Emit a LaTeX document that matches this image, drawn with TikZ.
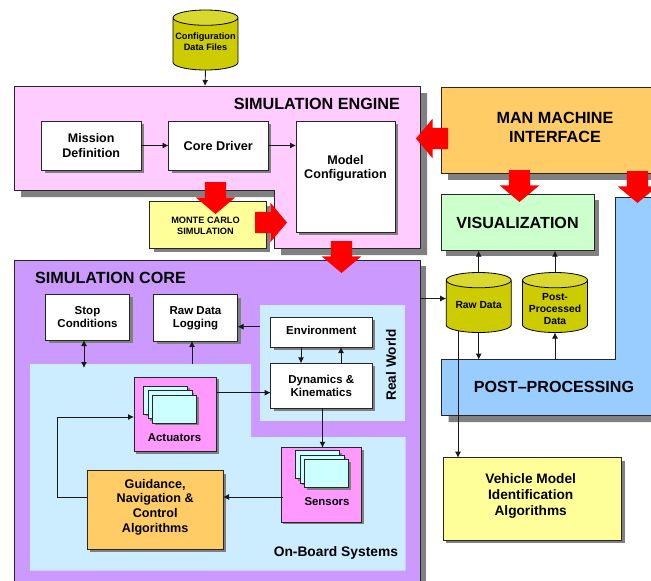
\documentclass[tikz,border=0pt]{standalone}
\usepackage{fontspec}
\setmainfont{Liberation Sans}
\usetikzlibrary{arrows.meta,shadows,shapes.geometric,shapes.arrows}
\definecolor{shadowgray}{HTML}{808080}
\definecolor{enginepink}{HTML}{FFCCFF}
\definecolor{corepurple}{HTML}{CC99FF}
\definecolor{regionblue}{HTML}{CCECFF}
\definecolor{manorange}{HTML}{FFCC66}
\definecolor{visgreen}{HTML}{CCFFCC}
\definecolor{postblue}{HTML}{99CCFF}
\definecolor{paleyellow}{HTML}{FFFF99}
\definecolor{actpink}{HTML}{FF99FF}
\definecolor{stackcyan}{HTML}{CCFFFF}
\definecolor{cylbody}{HTML}{CCCC00}
\definecolor{cylend}{HTML}{D8D82E}
\newcommand{\sz}[2]{\fontsize{#1}{#2}\selectfont\bfseries}
\tikzset{
	dropsh/.style={drop shadow={shadow xshift=#1pt, shadow yshift=-#1pt, fill=shadowgray, opacity=1}},
	box/.style={draw=black!85, line width=0.8pt, inner sep=0pt, outer sep=0pt, align=center, minimum width=#1},
	whitebox/.style={box=#1, fill=white, dropsh=3},
	stackbox/.style={draw=black!85, line width=0.7pt, fill=stackcyan, minimum width=44pt, minimum height=28pt, inner sep=0pt, dropsh=2},
	cyl/.style={cylinder, shape border rotate=90, aspect=0.33, draw=black, line width=0.8pt, inner sep=0pt, outer sep=0pt,
		minimum width=65pt, minimum height=60pt, anchor=shape center,
		cylinder uses custom fill, cylinder body fill=cylbody, cylinder end fill=cylend},
	flow/.style={-{Latex[length=6pt,width=6pt]}, line width=0.9pt, draw=black!90},
	bothflow/.style={{Latex[length=6pt,width=6pt]}-{Latex[length=6pt,width=6pt]}, line width=0.9pt, draw=black!90},
	bigarrow/.style={single arrow, fill=red, draw=none, inner xsep=0pt, inner ysep=10.5pt, outer sep=0pt, anchor=tail,
		minimum height=32pt, single arrow head extend=9pt, single arrow tip angle=100, single arrow head indent=0pt},
	plain/.style={inner sep=0pt, outer sep=0pt, align=center},
}
\newcommand{\cylfill}{\phantom{\sz{10.3}{11.7}Raw Data}}
\begin{document}
\begin{tikzpicture}[x=1pt, y=-1pt]
	\useasboundingbox (0,0) rectangle (651,581);
	\clip (0,0) rectangle (651,581);

	% engine and core
	\draw[draw=black!85, line width=0.8pt, fill=enginepink, dropsh=7]
		(14,86) -- (420,86) -- (420,248) -- (274,248) -- (274,190) -- (14,190) -- cycle;
	\coordinate (enginetop) at (205,86);
	\node[plain, font=\sz{16.2}{19}, anchor=east] (enginetitle) at (400,103.5) {SIMULATION ENGINE};

	\node[box=406pt, fill=corepurple, minimum height=360pt, dropsh=6] (core) at (217,440) {};
	\node[plain, font=\sz{16.2}{19}, anchor=west] (coretitle) at (35,278) {SIMULATION CORE};

	\fill[regionblue] (260,305) rectangle (405,421);
	\fill[regionblue] (30,364) -- (251,364) -- (251,437) -- (405.5,437) -- (405.5,570.7) -- (30,570.7) -- cycle;
	\coordinate (realwest) at (260,326.7);
	\coordinate (boardtop) at (192,364);
	\coordinate (stopend) at (84,368);
	\node[plain, font=\sz{13.6}{16}, rotate=90] (realworld) at (391,365) {Real World};
	\node[plain, font=\sz{13.8}{16}, anchor=east] (onboard) at (398,553) {On-Board Systems};

	% engine boxes
	\node[whitebox=99.5pt, minimum height=49pt, font=\sz{12.5}{14.3}] (mission) at (91.25,145.5) {Mission\\Definition};
	\node[whitebox=99.5pt, minimum height=49pt, font=\sz{12.7}{14.3}] (driver) at (218.25,145.5) {Core Driver};
	\node[whitebox=99pt, minimum height=111pt] (model) at (345.5,176.5) {};
	\node[plain, font=\sz{12.6}{14.3}] (modeltext) at (345.5,168) {Model\\Configuration};
	\node[box=116.5pt, fill=paleyellow, minimum height=46.5pt, dropsh=4] (monte) at (207.75,224.75) {};
	\node[plain, font=\sz{9.2}{11}] (montetext) at (205.5,226) {MONTE CARLO\\SIMULATION};

	% core boxes
	\node[whitebox=84pt, minimum height=45.7pt, font=\sz{11.5}{13}] (stop) at (87.5,317.2) {Stop\\Conditions};
	\node[whitebox=84pt, minimum height=46.3pt, font=\sz{11.5}{13}] (logging) at (195.5,317.8) {Raw Data\\Logging};
	\node[whitebox=101.3pt, minimum height=30pt] (environment) at (321.3,332) {};
	\node[plain, font=\sz{11.5}{13}] (envtext) at (321.3,330) {Environment};
	\node[whitebox=101.3pt, minimum height=44.7pt, font=\sz{11.5}{13}] (dynamics) at (321.3,385.7) {Dynamics \&\\Kinematics};
	\node[box=82.7pt, fill=actpink, minimum height=74.4pt, dropsh=2] (actuators) at (175.3,414.5) {};
	\node[box=80.7pt, fill=actpink, minimum height=74.3pt, dropsh=2] (sensors) at (321.3,484.9) {};
	\foreach \i in {0,1,2} {
		\node[stackbox] (act\i) at (165.5+4.5*\i,400.2+4.5*\i) {};
		\node[stackbox] (sen\i) at (317.8+4.5*\i,464.5+4.5*\i) {};
	}
	\node[plain, font=\sz{11.4}{13}] (actlabel) at (174.5,438) {Actuators};
	\node[plain, font=\sz{11.4}{13}] (senlabel) at (327,501.7) {Sensors};
	\node[box=135.7pt, fill=manorange, minimum height=78.6pt, dropsh=3] (guidance) at (155.2,510) {};
	\node[plain, font=\sz{12.6}{14.7}] (guidtext) at (155.2,507) {Guidance,\\Navigation \&\\Control\\Algorithms};

	% right side
	\node[box=228pt, fill=manorange, minimum height=86pt, dropsh=7] (interface) at (555,130) {};
	\node[plain, font=\sz{16.2}{18.7}] (mantext) at (555,127.5) {MAN MACHINE\\INTERFACE};
	\node[box=153pt, fill=visgreen, minimum height=56pt, dropsh=5, font=\sz{16.1}{19}] (vis) at (517.5,222.7) {VISUALIZATION};
	\draw[draw=black!85, line width=0.8pt, fill=postblue, dropsh=7]
		(441.5,359.7) -- (615,359.7) -- (615,197) -- (700,197) -- (700,415) -- (441.5,415) -- cycle;
	\coordinate (posttopa) at (478.7,359.7);
	\coordinate (posttopb) at (555,359.7);
	\node[plain, font=\sz{16.1}{19}] (posttitle) at (554,387) {POST--PROCESSING};
	\node[box=178.4pt, fill=paleyellow, minimum height=82.3pt, dropsh=3] (vehicle) at (532.5,498.85) {};
	\node[plain, font=\sz{13.7}{16}] (vehicletext) at (530.7,495.7) {Vehicle Model\\Identification\\Algorithms};

	\node[cyl] (config) at (205.5,40) {\cylfill};
	\node[plain, font=\sz{9.2}{11}] (configtext) at (205.5,42) {Configuration\\Data Files};
	\node[cyl] (rawdata) at (478.7,302.5) {\cylfill};
	\node[plain, font=\sz{10.3}{11.7}] (rawtext) at (478.7,305) {Raw Data};
	\node[cyl] (postdata) at (555,302.5) {\cylfill};
	\node[plain, font=\sz{10.3}{11.7}] (posttext) at (555,309) {Post-\\Processed\\Data};

	% thin connectors
	\draw[flow] (config.south) -- (enginetop);
	\draw[flow] (mission) -- (driver);
	\draw[flow] (driver) -- (driver -| model.west);
	\draw[bothflow] (stop.south -| stopend) -- (stopend);
	\draw[flow] (boardtop) -- (boardtop |- logging.south);
	\draw[flow] (realwest) -- (realwest -| logging.east);
	\coordinate (envdown) at (301,347);
	\coordinate (dynup) at (341,363.3);
	\draw[flow] (envdown) -- (envdown |- dynamics.north);
	\draw[flow] (dynup) -- (dynup |- environment.south);
	\coordinate (actout) at (216.7,392.7);
	\draw[flow] (actout) -- (actout -| dynamics.west);
	\coordinate (dynout) at (322.5,408);
	\draw[flow] (dynout) -- (dynout |- sensors.north);
	\coordinate (senout) at (283,497);
	\draw[flow] (senout) -- (senout -| guidance.east);
	\coordinate (guidout) at (87.3,497);
	\coordinate (actin) at (134,417);
	\draw[flow] (guidout) -- (57.3,497) -- (57.3,417) -- (actin);
	\coordinate (coreout) at (420,298.5);
	\draw[flow] (coreout) -- (coreout -| rawdata.west);
	\draw[flow] (rawdata.north) -- (rawdata.north |- vis.south);
	\draw[flow] (postdata.north) -- (postdata.north |- vis.south);
	\draw[flow] (rawdata.south) -- (posttopa);
	\draw[flow] (posttopb) -- (postdata.south);
	\coordinate (rawout) at (458,331);
	\draw[flow] (rawout) -- (rawout |- vehicle.north);

	% big red arrows
	\node[bigarrow, rotate=-90] (toMonte) at (215.5,182) {};
	\node[bigarrow, rotate=0] (toModel) at (255,222.5) {};
	\node[bigarrow, rotate=180] (toEngine) at (448,138.5) {};
	\node[bigarrow, rotate=-90] (toCore) at (341.5,241) {};
	\node[bigarrow, rotate=-90] (toVis) at (519.5,170) {};
	\node[bigarrow, rotate=-90] (toPost) at (637.5,171) {};
\end{tikzpicture}
\end{document}
